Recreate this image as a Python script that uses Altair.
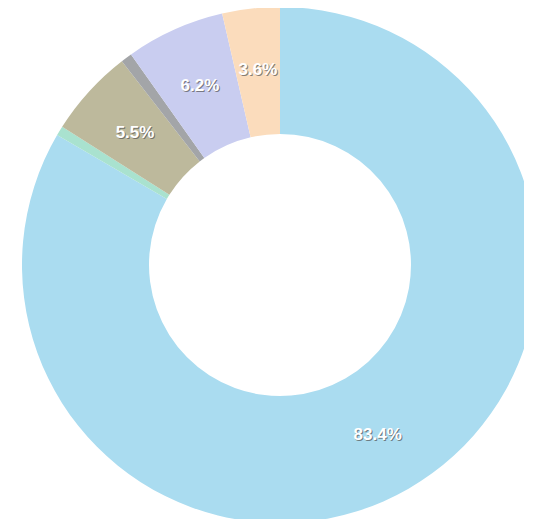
import altair as alt
import pandas as pd

categories = ["Blue", "Green", "Olive", "Gray", "Purple", "Orange"]
values = [83.4, 0.6, 5.5, 0.7, 6.2, 3.6]
labels = ["83.4%", "", "5.5%", "", "6.2%", "3.6%"]
colors = ["#aadcf0", "#a9e2cf", "#bdb99c", "#a3a5a8", "#c9cdf0", "#fbdcbc"]

df = pd.DataFrame({
    "category": categories,
    "value": values,
    "label": labels,
    "idx": list(range(len(categories))),
})

CX, CY = 272, 257
OUTER, INNER, LR = 258, 131, 196

base = alt.Chart(df).encode(
    theta=alt.Theta("value:Q", stack=True),
    order=alt.Order("idx:Q"),
    x=alt.value(CX),
    y=alt.value(CY),
)

arcs = base.mark_arc(outerRadius=OUTER, innerRadius=INNER, strokeWidth=0).encode(
    color=alt.Color("category:N", scale=alt.Scale(domain=categories, range=colors), legend=None)
)

shadow = base.mark_text(radius=LR, font="Liberation Sans", fontSize=17, fontWeight="bold",
                        color="#555555", opacity=0.7, dx=1, dy=1).encode(
    text="label:N"
)
text = base.mark_text(radius=LR, font="Liberation Sans", fontSize=17, fontWeight="bold",
                      color="white").encode(
    text="label:N"
)

chart = alt.layer(arcs, shadow, text).properties(
    width=516, height=511, padding=0,
    autosize=alt.AutoSizeParams(type="none"),
).configure_view(stroke=None)

chart.save("out.html", embed_options={"renderer": "svg", "actions": False})
